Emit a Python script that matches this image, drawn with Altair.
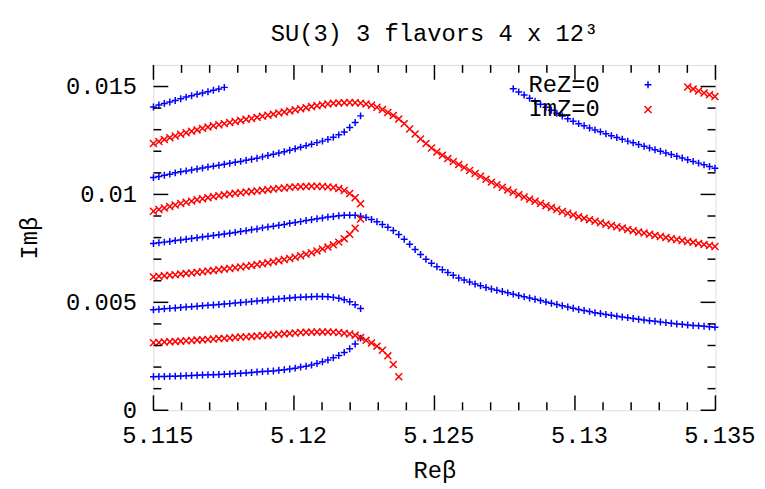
import altair as alt
import pandas as pd

# scan grid in Re(beta)
BETA0 = 5.115
DBETA = 0.000194

# ReZ = 0 curves (start index on the grid, Im(beta) values)
b1_start = 0
b1 = [0.01405, 0.01414, 0.01421, 0.01428, 0.01435, 0.01443, 0.01451, 0.01457, 0.01464, 0.01470,
      0.01476, 0.01483, 0.01489, 0.01496]
b2_start = 0
b2 = [0.01078, 0.01083, 0.01089, 0.01094, 0.01100, 0.01105, 0.01109, 0.01113, 0.01118, 0.01122,
      0.01127, 0.01131, 0.01135, 0.01140, 0.01144, 0.01149, 0.01153, 0.01158, 0.01163, 0.01168,
      0.01174, 0.01180, 0.01186, 0.01192, 0.01198, 0.01205, 0.01212, 0.01219, 0.01226, 0.01233,
      0.01240, 0.01247, 0.01255, 0.01265, 0.01276, 0.01289, 0.01310, 0.01333, 0.01364]
b3_start = 0
b3 = [0.00773, 0.00776, 0.00779, 0.00782, 0.00786, 0.00789, 0.00792, 0.00796, 0.00799, 0.00803,
      0.00806, 0.00810, 0.00813, 0.00817, 0.00820, 0.00824, 0.00828, 0.00832, 0.00836, 0.00840,
      0.00845, 0.00849, 0.00853, 0.00857, 0.00861, 0.00866, 0.00870, 0.00874, 0.00879, 0.00883,
      0.00887, 0.00891, 0.00895, 0.00898, 0.00901, 0.00903, 0.00904, 0.00903, 0.00899, 0.00893,
      0.00884, 0.00873, 0.00861, 0.00848, 0.00833, 0.00814, 0.00792, 0.00769, 0.00745, 0.00722,
      0.00700, 0.00681, 0.00665, 0.00651, 0.00638, 0.00625, 0.00613, 0.00603, 0.00594, 0.00585,
      0.00577, 0.00569, 0.00562, 0.00556, 0.00550, 0.00544, 0.00538, 0.00532, 0.00526, 0.00520,
      0.00514, 0.00508, 0.00502, 0.00496, 0.00490, 0.00484, 0.00478, 0.00473, 0.00467, 0.00462,
      0.00457, 0.00452, 0.00448, 0.00444, 0.00440, 0.00436, 0.00432, 0.00429, 0.00425, 0.00422,
      0.00418, 0.00415, 0.00412, 0.00409, 0.00406, 0.00403, 0.00400, 0.00398, 0.00395, 0.00393,
      0.00391, 0.00389, 0.00387, 0.00385]
b4_start = 0
b4 = [0.00466, 0.00468, 0.00470, 0.00472, 0.00474, 0.00476, 0.00478, 0.00480, 0.00482, 0.00484,
      0.00486, 0.00488, 0.00490, 0.00492, 0.00494, 0.00497, 0.00499, 0.00501, 0.00504, 0.00506,
      0.00509, 0.00511, 0.00514, 0.00516, 0.00518, 0.00520, 0.00522, 0.00524, 0.00525, 0.00526,
      0.00527, 0.00527, 0.00526, 0.00523, 0.00519, 0.00512, 0.00503, 0.00489, 0.00471]
b5_start = 0
b5 = [0.00155, 0.00156, 0.00156, 0.00157, 0.00158, 0.00159, 0.00160, 0.00161, 0.00162, 0.00163,
      0.00164, 0.00165, 0.00166, 0.00167, 0.00168, 0.00170, 0.00171, 0.00173, 0.00175, 0.00177,
      0.00179, 0.00181, 0.00182, 0.00185, 0.00188, 0.00191, 0.00195, 0.00200, 0.00204, 0.00210,
      0.00217, 0.00225, 0.00233, 0.00243, 0.00254, 0.00268, 0.00285, 0.00307, 0.00334]
b6_start = 66
b6 = [0.01490, 0.01475, 0.01461, 0.01446, 0.01432, 0.01418, 0.01404, 0.01390, 0.01376, 0.01363,
      0.01351, 0.01339, 0.01328, 0.01318, 0.01308, 0.01299, 0.01290, 0.01281, 0.01272, 0.01264,
      0.01256, 0.01247, 0.01239, 0.01231, 0.01223, 0.01215, 0.01207, 0.01200, 0.01192, 0.01185,
      0.01177, 0.01169, 0.01161, 0.01153, 0.01145, 0.01137, 0.01129, 0.01121]

# ImZ = 0 curves
r1_start = 0
r1 = [0.01236, 0.01245, 0.01254, 0.01263, 0.01271, 0.01279, 0.01286, 0.01293, 0.01299, 0.01306,
      0.01312, 0.01318, 0.01323, 0.01328, 0.01333, 0.01338, 0.01343, 0.01348, 0.01352, 0.01357,
      0.01362, 0.01367, 0.01372, 0.01377, 0.01382, 0.01387, 0.01392, 0.01397, 0.01402, 0.01407,
      0.01411, 0.01415, 0.01419, 0.01422, 0.01424, 0.01425, 0.01426, 0.01425, 0.01423, 0.01419,
      0.01413, 0.01404, 0.01393, 0.01380, 0.01366, 0.01350, 0.01328, 0.01303, 0.01280, 0.01257,
      0.01236, 0.01215, 0.01197, 0.01181, 0.01166, 0.01152, 0.01139, 0.01125, 0.01111, 0.01097,
      0.01084, 0.01070, 0.01057, 0.01045, 0.01033, 0.01021, 0.01010, 0.00999, 0.00988, 0.00978,
      0.00968, 0.00958, 0.00948, 0.00939, 0.00930, 0.00921, 0.00913, 0.00905, 0.00897, 0.00890,
      0.00883, 0.00876, 0.00869, 0.00862, 0.00856, 0.00850, 0.00844, 0.00838, 0.00832, 0.00826,
      0.00821, 0.00815, 0.00810, 0.00805, 0.00800, 0.00795, 0.00791, 0.00786, 0.00782, 0.00778,
      0.00773, 0.00768, 0.00763, 0.00759]
r2_start = 0
r2 = [0.00922, 0.00930, 0.00937, 0.00944, 0.00951, 0.00958, 0.00964, 0.00969, 0.00975, 0.00980,
      0.00985, 0.00990, 0.00994, 0.00998, 0.01002, 0.01005, 0.01008, 0.01011, 0.01014, 0.01016,
      0.01019, 0.01022, 0.01025, 0.01028, 0.01030, 0.01033, 0.01035, 0.01036, 0.01037, 0.01038,
      0.01038, 0.01037, 0.01035, 0.01032, 0.01027, 0.01018, 0.01004, 0.00985, 0.00957]
r3_start = 0
r3 = [0.00618, 0.00621, 0.00623, 0.00626, 0.00628, 0.00631, 0.00634, 0.00636, 0.00639, 0.00642,
      0.00645, 0.00648, 0.00651, 0.00654, 0.00657, 0.00660, 0.00664, 0.00667, 0.00671, 0.00675,
      0.00679, 0.00683, 0.00688, 0.00693, 0.00698, 0.00703, 0.00709, 0.00716, 0.00723, 0.00730,
      0.00738, 0.00747, 0.00756, 0.00767, 0.00779, 0.00795, 0.00815, 0.00843, 0.00886]
r4_start = 0
r4 = [0.00313, 0.00314, 0.00316, 0.00317, 0.00319, 0.00320, 0.00322, 0.00323, 0.00325, 0.00327,
      0.00328, 0.00330, 0.00332, 0.00333, 0.00335, 0.00337, 0.00339, 0.00340, 0.00342, 0.00344,
      0.00346, 0.00348, 0.00350, 0.00352, 0.00354, 0.00356, 0.00358, 0.00360, 0.00361, 0.00362,
      0.00363, 0.00363, 0.00363, 0.00362, 0.00360, 0.00357, 0.00353, 0.00347, 0.00337, 0.00324,
      0.00312, 0.00297, 0.00278, 0.00252, 0.00212, 0.00155]
r5_start = 98
r5 = [0.01498, 0.01488, 0.01479, 0.01470, 0.01462, 0.01454]

x_major = [5.115, 5.12, 5.125, 5.13, 5.135]
x_minor = [5.116, 5.117, 5.118, 5.119, 5.121, 5.122, 5.123, 5.124, 5.126, 5.127, 5.128, 5.129,
           5.131, 5.132, 5.133, 5.134]
y_major = [0, 0.005, 0.01, 0.015]
y_minor = [0.001, 0.002, 0.003, 0.004, 0.006, 0.007, 0.008, 0.009, 0.011, 0.012, 0.013, 0.014]

SERIES = ["ReZ=0", "ImZ=0"]
COLORS = ["#0000ff", "#ff0000"]
PLUS = "M-1,0L1,0M0,-1L0,1"
CROSS = "M-1,-1L1,1M-1,1L1,-1"
# key samples: same glyphs, drawn to the right of the key text (gnuplot style)
KEY_PLUS = "M38.1,0L40.1,0M39.1,-1L39.1,1"
KEY_CROSS = "M38.1,-1L40.1,1M38.1,1L40.1,-1"

rows = []
for name, start, vals in [("ReZ=0", b1_start, b1), ("ReZ=0", b2_start, b2), ("ReZ=0", b3_start, b3),
                          ("ReZ=0", b4_start, b4), ("ReZ=0", b5_start, b5), ("ReZ=0", b6_start, b6),
                          ("ImZ=0", r1_start, r1), ("ImZ=0", r2_start, r2), ("ImZ=0", r3_start, r3),
                          ("ImZ=0", r4_start, r4), ("ImZ=0", r5_start, r5)]:
    for k, v in enumerate(vals):
        rows.append({"re": round(BETA0 + DBETA * (start + k), 6), "im": v, "series": name})
df = pd.DataFrame(rows)

W, H = 568, 349
FONT = "Liberation Mono"
FS = 24

xscale = alt.Scale(domain=[5.115, 5.135], nice=False, zero=False)
yscale = alt.Scale(domain=[0, 0.016], nice=False, zero=False)

xaxis = alt.Axis(values=x_major, format=".3~f", ticks=False, domain=False, grid=False,
                 labelFont=FONT, labelFontSize=FS, labelColor="black", labelPadding=14,
                 labelOffset=4, labelFlush=False, labelOverlap=False,
                 title="Reβ", titleFont=FONT, titleFontSize=FS, titleFontWeight="normal",
                 titleColor="black", titleY=61, titleBaseline="middle")
yaxis = alt.Axis(values=y_major, format=".3~f", ticks=False, domain=False, grid=False,
                 labelFont=FONT, labelFontSize=FS, labelColor="black", labelPadding=17,
                 labelFlush=False, labelOverlap=False,
                 title="Imβ", titleFont=FONT, titleFontSize=FS, titleFontWeight="normal",
                 titleColor="black", titleX=-125, titleY=H / 2, titleAngle=270,
                 titleAlign="center", titleBaseline="middle")

blue = alt.Chart(df).transform_filter(alt.datum.series == SERIES[0]).mark_point(
    shape=PLUS, color=COLORS[0], filled=False, size=49, strokeWidth=1.5, opacity=1).encode(
    x=alt.X("re:Q", scale=xscale, axis=xaxis), y=alt.Y("im:Q", scale=yscale, axis=yaxis))
red = alt.Chart(df).transform_filter(alt.datum.series == SERIES[1]).mark_point(
    shape=CROSS, color=COLORS[1], filled=False, size=49, strokeWidth=1.5, opacity=1).encode(
    x=alt.X("re:Q", scale=xscale, axis=xaxis), y=alt.Y("im:Q", scale=yscale, axis=yaxis))

leg = alt.Legend(title=None, orient="none", legendX=351, legendY=8,
                 labelFont=FONT, labelFontSize=FS, labelColor="black",
                 symbolSize=49, symbolStrokeWidth=1.5, rowPadding=1, padding=0)
key = alt.Chart(df).transform_filter("false").mark_point(
    filled=False, size=49, strokeWidth=1.5, opacity=1).encode(
    x=alt.X("re:Q", scale=xscale, axis=xaxis), y=alt.Y("im:Q", scale=yscale, axis=yaxis),
    color=alt.Color("series:N", scale=alt.Scale(domain=SERIES, range=COLORS), legend=leg),
    shape=alt.Shape("series:N", scale=alt.Scale(domain=SERIES, range=[KEY_PLUS, KEY_CROSS]),
                    legend=leg),
)

tick_style = dict(color="black", strokeWidth=1.5)

def xticks(vals, length):
    d = pd.DataFrame({"t": vals})
    bottom = alt.Chart(d).mark_rule(**tick_style).encode(
        x=alt.X("t:Q", scale=xscale, axis=xaxis), y=alt.value(H), y2=alt.value(H - length))
    top = alt.Chart(d).mark_rule(**tick_style).encode(
        x=alt.X("t:Q", scale=xscale, axis=xaxis), y=alt.value(0), y2=alt.value(length))
    return [bottom, top]

def yticks(vals, length):
    d = pd.DataFrame({"t": vals})
    left = alt.Chart(d).mark_rule(**tick_style).encode(
        y=alt.Y("t:Q", scale=yscale, axis=yaxis), x=alt.value(0), x2=alt.value(length))
    right = alt.Chart(d).mark_rule(**tick_style).encode(
        y=alt.Y("t:Q", scale=yscale, axis=yaxis), x=alt.value(W), x2=alt.value(W - length))
    return [left, right]

layers = ([blue, red, key] + xticks(x_major, 15) + xticks(x_minor, 8)
          + yticks(y_major, 15) + yticks(y_minor, 8))

chart = alt.layer(*layers).properties(
    width=W, height=H,
    title=alt.TitleParams(text="SU(3) 3 flavors 4 x 12³", font=FONT, fontSize=FS,
                          fontWeight="normal", color="black", anchor="middle", offset=18),
    autosize=alt.AutoSizeParams(type="none"),
    padding={"left": 147, "top": 55, "right": 42, "bottom": 72},
).configure_view(stroke="black", strokeWidth=1.5).configure(background="white")

chart.save("out.html", embed_options={"renderer": "svg", "actions": False})
